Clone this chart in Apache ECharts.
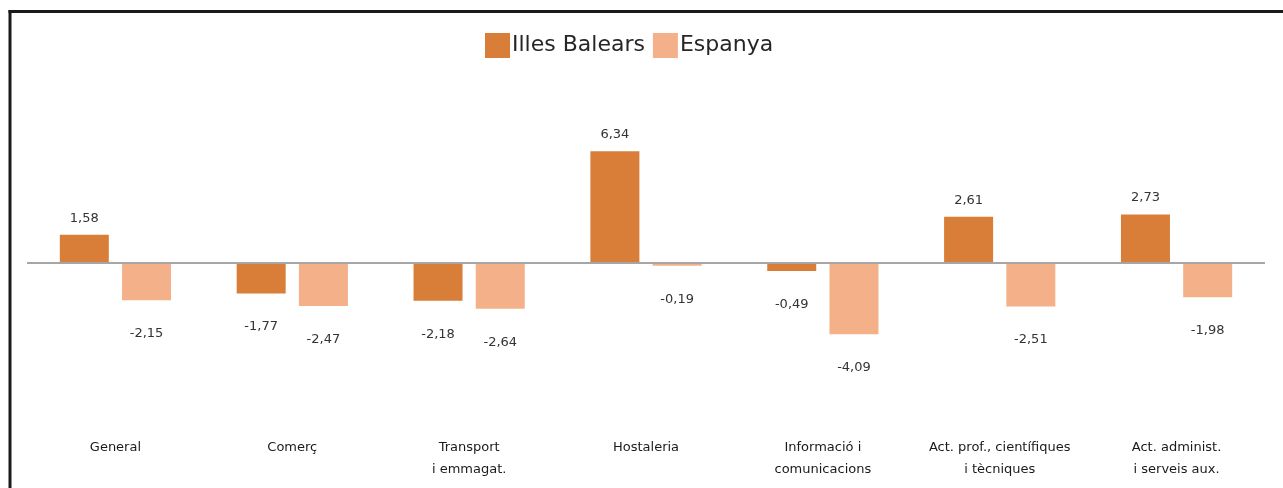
<!DOCTYPE html>
<html>
<head>
<meta charset="utf-8">
<script src="https://cdn.jsdelivr.net/npm/echarts@6/dist/echarts.min.js"></script>
<style>
html,body{margin:0;padding:0;background:#fff;}
#chart{width:1283px;height:488px;}
</style>
</head>
<body>
<div id="chart"></div>
<script>
const categories = [
  'General',
  'Comerç',
  'Transport\ni emmagat.',
  'Hostaleria',
  'Informació i\ncomunicacions',
  'Act. prof., científiques\ni tècniques',
  'Act. administ.\ni serveis aux.'
];
const seriesNames = ['Illes Balears', 'Espanya'];
const illesBalears = [1.58, -1.77, -2.18, 6.34, -0.49, 2.61, 2.73];
const espanya = [-2.15, -2.47, -2.64, -0.19, -4.09, -2.51, -1.98];

function fmt(v) { return v.toFixed(2).replace('.', ','); }
function withLabels(arr) {
  return arr.map(v => ({
    value: v,
    label: { position: v < 0 ? 'bottom' : 'top', distance: v < 0 ? 27 : 10 }
  }));
}

const chart = echarts.init(document.getElementById('chart'), null, { renderer: 'canvas' });
const labelStyle = {
  show: true,
  color: '#333333',
  fontSize: 13,
  fontFamily: 'DejaVu Sans',
  formatter: p => fmt(p.value)
};
chart.setOption({
  animation: false,
  backgroundColor: '#fff',
  legend: {
    top: 28,
    left: 480,
    icon: 'rect',
    itemWidth: 25,
    itemHeight: 25,
    itemGap: 8,
    textStyle: { fontSize: 22, color: '#262626', fontFamily: 'DejaVu Sans', padding: [0, 0, 0, -3] },
    data: seriesNames
  },
  grid: { left: 27, right: 18, top: 122, bottom: 85 },
  xAxis: {
    type: 'category',
    data: categories,
    axisLine: { show: false, onZero: false },
    axisTick: { show: false },
    axisLabel: {
      margin: 34,
      fontSize: 13,
      lineHeight: 22,
      color: '#1a1a1a',
      fontFamily: 'DejaVu Sans',
      interval: 0
    }
  },
  yAxis: {
    type: 'value',
    min: -8,
    max: 8,
    interval: 8,
    show: false,
    splitLine: { show: false }
  },
  series: [
    {
      name: seriesNames[0],
      type: 'bar',
      barWidth: 49,
      barGap: '27%',
      itemStyle: { color: '#D97E38' },
      label: labelStyle,
      data: withLabels(illesBalears),
      markLine: {
        silent: true,
        symbol: ['none', 'none'],
        label: { show: false },
        lineStyle: { color: '#A6A6A6', width: 2, type: 'solid' },
        data: [{ yAxis: 0 }]
      }
    },
    {
      name: seriesNames[1],
      type: 'bar',
      barWidth: 49,
      barGap: '27%',
      itemStyle: { color: '#F4B088' },
      label: labelStyle,
      data: withLabels(espanya)
    }
  ],
  graphic: [
    {
      type: 'line',
      silent: true,
      shape: { x1: 8.5, y1: 11.5, x2: 1283, y2: 11.5 },
      style: { stroke: '#1a1a1a', lineWidth: 3 },
      z: 100
    },
    {
      type: 'line',
      silent: true,
      shape: { x1: 10, y1: 10, x2: 10, y2: 488 },
      style: { stroke: '#1a1a1a', lineWidth: 3 },
      z: 100
    }
  ]
});
</script>
</body>
</html>
